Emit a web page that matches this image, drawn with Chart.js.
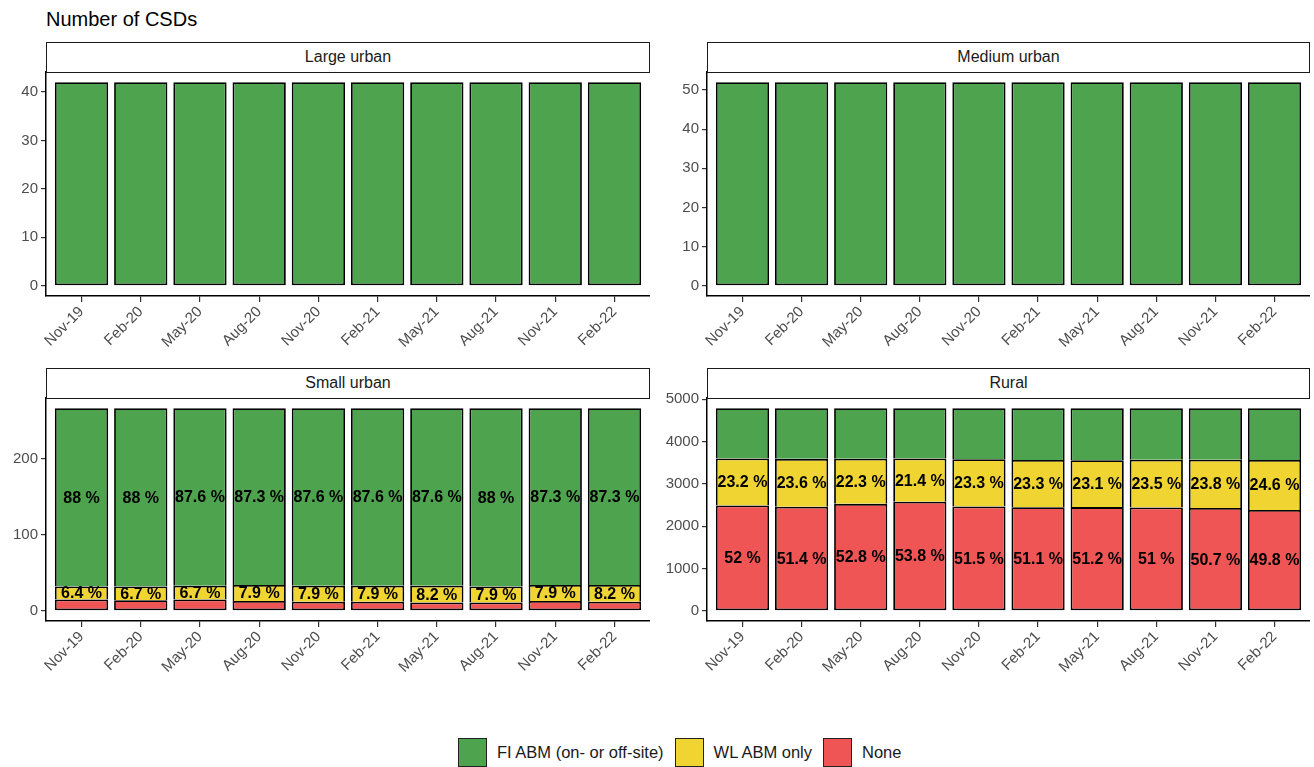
<!DOCTYPE html>
<html><head><meta charset="utf-8">
<script src="https://cdn.jsdelivr.net/npm/chart.js@4.4.1/dist/chart.umd.min.js"></script>
<style>
body{margin:0;background:#fff;width:1314px;height:767px;overflow:hidden;position:relative;font-family:"Liberation Sans",Arial,sans-serif;}
.title{position:absolute;left:46px;top:7px;font-size:20px;color:#000;line-height:24px;white-space:nowrap;}
.strip{position:absolute;box-sizing:border-box;border:1.5px solid #1a1a1a;background:#fff;text-align:center;font-size:16px;color:#1a1a1a;z-index:2;}
canvas{position:absolute;z-index:1;}
#legend{position:absolute;left:458px;top:738px;display:flex;align-items:center;height:29px;}
.key{width:29px;height:29px;box-sizing:border-box;border:1.5px solid #222;margin-right:10px;}
.ltxt{font-size:16.5px;color:#1a1a1a;margin-right:11px;white-space:nowrap;}
</style></head>
<body>
<div class="title">Number of CSDs</div>
<div id="legend"></div>
<script>
// ---- data ----
const categories = ['Nov-19','Feb-20','May-20','Aug-20','Nov-20','Feb-21','May-21','Aug-21','Nov-21','Feb-22'];
const seriesNames = ['FI ABM (on- or off-site)','WL ABM only','None'];
const seriesColors = ['#4EA34E','#F0D432','#F05555'];

const largeFI   = [42,42,42,42,42,42,42,42,42,42];
const largeWL   = [0,0,0,0,0,0,0,0,0,0];
const largeNone = [0,0,0,0,0,0,0,0,0,0];
const largeTicks = [0,10,20,30,40];

const mediumFI   = [52,52,52,52,52,52,52,52,52,52];
const mediumWL   = [0,0,0,0,0,0,0,0,0,0];
const mediumNone = [0,0,0,0,0,0,0,0,0,0];
const mediumTicks = [0,10,20,30,40,50];

const smallFI   = [235,235,234,233,234,234,234,235,233,233];
const smallWL   = [17,18,18,21,21,21,22,21,21,22];
const smallNone = [15,14,15,13,12,12,11,11,13,12];
const smallTicks = [0,100,200];

const ruralFI   = [1188,1198,1193,1188,1207,1226,1232,1221,1221,1227];
const ruralWL   = [1111,1130,1068,1025,1116,1116,1106,1126,1140,1178];
const ruralNone = [2491,2462,2529,2577,2467,2448,2452,2443,2429,2385];
const ruralTicks = [0,1000,2000,3000,4000,5000];

const panelNames = ['Large urban','Medium urban','Small urban','Rural'];
// labelled series per panel (index into seriesNames)
const labelledSeries = [[],[],[0,1],[1,2]];

// ---- layout ----
const boxes = [
  {left:46, top:72, right:650, bottom:296, canvasLeft:0},
  {left:707, top:72, right:1310, bottom:296, canvasLeft:655},
  {left:46, top:398, right:650, bottom:621, canvasLeft:0},
  {left:707, top:398, right:1310, bottom:621, canvasLeft:655}
];
const STRIP_H = 31, PAD_TOP = 20, XAXIS_H = 60;

Chart.defaults.font.family = '"Liberation Sans", Arial, sans-serif';

const labelPlugin = {
  id: 'segLabels',
  afterDatasetsDraw(chart) {
    const ctx = chart.ctx;
    ctx.save();
    ctx.font = 'bold 16px "Liberation Sans", Arial, sans-serif';
    ctx.fillStyle = '#000';
    ctx.textAlign = 'center';
    ctx.textBaseline = 'middle';
    chart.data.datasets.forEach((ds, di) => {
      if (!ds.showLabels) return;
      const meta = chart.getDatasetMeta(di);
      meta.data.forEach((el, i) => {
        const v = ds.data[i].y, tot = ds.totals[i];
        const pct = Math.round(v / tot * 1000) / 10;
        ctx.fillText(pct + ' %', el.x, (el.y + el.base) / 2 + 1);
      });
    });
    ctx.restore();
  }
};

const panelData = [
  [largeFI, largeWL, largeNone, largeTicks],
  [mediumFI, mediumWL, mediumNone, mediumTicks],
  [smallFI, smallWL, smallNone, smallTicks],
  [ruralFI, ruralWL, ruralNone, ruralTicks]
];

panelData.forEach((pd, p) => {
  const b = boxes[p];
  const series = [pd[0], pd[1], pd[2]];
  const ticks = pd[3];
  const totals = categories.map((c, i) => series[0][i] + series[1][i] + series[2][i]);
  const maxT = Math.max(...totals);

  // strip
  const s = document.createElement('div');
  s.className = 'strip';
  s.style.left = b.left + 'px';
  s.style.top = (b.top - STRIP_H + 1) + 'px';
  s.style.width = (b.right - b.left) + 'px';
  s.style.height = STRIP_H + 'px';
  s.style.lineHeight = (STRIP_H - 3) + 'px';
  s.textContent = panelNames[p];
  document.body.appendChild(s);

  // canvas
  const cv = document.createElement('canvas');
  const cw = b.right - b.canvasLeft;
  const ch = PAD_TOP + (b.bottom - b.top) + XAXIS_H;
  cv.width = cw; cv.height = ch;
  cv.style.left = b.canvasLeft + 'px';
  cv.style.top = (b.top - PAD_TOP) + 'px';
  cv.style.width = cw + 'px'; cv.style.height = ch + 'px';
  document.body.appendChild(cv);
  const yW = b.left - b.canvasLeft;

  // stacking order bottom->top: None, WL, FI
  const order = [2, 1, 0];
  const datasets = [];
  let first = true;
  order.forEach(si => {
    const vals = series[si];
    if (vals.every(v => v === 0)) return;
    datasets.push({
      label: seriesNames[si],
      data: vals.map((v, i) => ({x: i, y: v})),
      backgroundColor: seriesColors[si],
      borderColor: '#000',
      borderWidth: 1.8,
      borderSkipped: first ? false : 'bottom',
      barPercentage: 0.9,
      categoryPercentage: 1.0,
      showLabels: labelledSeries[p].includes(si),
      totals: totals
    });
    first = false;
  });

  const axisBorder = {display: true, color: '#000', width: 1.5};

  new Chart(cv, {
    type: 'bar',
    data: {datasets},
    plugins: [labelPlugin],
    options: {
      responsive: false, animation: false,
      layout: {padding: {top: PAD_TOP, left: 0, right: 0, bottom: 0}},
      plugins: {legend: {display: false}, tooltip: {enabled: false}},
      scales: {
        x: {
          type: 'linear', stacked: true, offset: false, min: -0.6, max: categories.length - 0.4,
          afterBuildTicks(sc) { sc.ticks = categories.map((c, i) => ({value: i})); },
          afterFit(sc) { sc.height = XAXIS_H; },
          ticks: {callback: v => categories[v], minRotation: 45, maxRotation: 45, autoSkip: false,
                  color: '#4d4d4d', font: {size: 15}, padding: 1},
          grid: {offset: false, drawOnChartArea: false, drawTicks: true, tickLength: 6, color: '#333', lineWidth: 1.2},
          border: axisBorder
        },
        y: {
          stacked: true, min: -0.05 * maxT, max: 1.05 * maxT,
          afterBuildTicks(sc) { sc.ticks = ticks.map(v => ({value: v})); },
          afterFit(sc) { sc.width = yW; },
          ticks: {color: '#4d4d4d', font: {size: 15}, padding: 3, callback: v => String(v)},
          grid: {drawOnChartArea: false, drawTicks: true, tickLength: 5, color: '#333', lineWidth: 1.2},
          border: axisBorder
        }
      }
    }
  });
});

// legend
const leg = document.getElementById('legend');
seriesNames.forEach((n, i) => {
  const k = document.createElement('div');
  k.className = 'key'; k.style.background = seriesColors[i];
  const t = document.createElement('div');
  t.className = 'ltxt'; t.textContent = n;
  leg.appendChild(k); leg.appendChild(t);
});
</script>
</body></html>
